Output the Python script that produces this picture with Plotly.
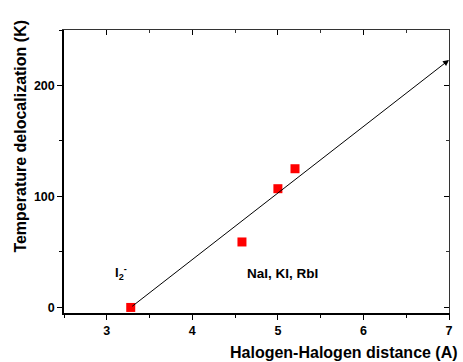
import plotly.graph_objects as go

distance = [3.28, 4.58, 5.0, 5.2]
temperature = [0, 59, 107, 125]
arrow_start = (3.28, 0)
arrow_end = (7.0, 223)
x_ticks = [3, 4, 5, 6, 7]
y_ticks = [0, 100, 200]

FONT = "Liberation Sans, Arial, sans-serif"

fig = go.Figure()
fig.add_trace(go.Scatter(x=distance, y=temperature, mode="markers",
                         marker=dict(symbol="square", size=9, color="#ff0000"),
                         showlegend=False, hoverinfo="skip"))
fig.add_trace(go.Scatter(x=[3], y=[0], xaxis="x2", yaxis="y2", mode="markers",
                         marker=dict(opacity=0), showlegend=False, hoverinfo="skip"))

fig.add_annotation(x=arrow_end[0], y=arrow_end[1], ax=arrow_start[0], ay=arrow_start[1],
                   xref="x", yref="y", axref="x", ayref="y", showarrow=True,
                   arrowhead=2, arrowsize=1.2, arrowwidth=1, arrowcolor="black", text="")
fig.add_annotation(x=3.17, y=31, xref="x", yref="y", text="I<sub>2</sub><sup>-</sup>",
                   showarrow=False, font=dict(family=FONT, size=13, color="black", weight="bold"))
fig.add_annotation(x=5.05, y=31, xref="x", yref="y", text="NaI, KI, RbI",
                   showarrow=False, font=dict(family=FONT, size=13.5, color="black", weight="bold"))
fig.add_annotation(x=1.028, y=-0.138, xref="paper", yref="paper", xanchor="right", yanchor="middle",
                   text="Halogen-Halogen distance (A)", showarrow=False,
                   font=dict(family=FONT, size=16, color="black", weight="bold"))
fig.add_annotation(x=-0.113, y=0.625, xref="paper", yref="paper", xanchor="center", yanchor="middle",
                   text="Temperature delocalization (K)", showarrow=False, textangle=-90,
                   font=dict(family=FONT, size=16, color="black", weight="bold"))

common = dict(showgrid=False, zeroline=False, color="black")
fig.update_layout(
    width=463, height=362,
    margin=dict(l=64, r=10, t=30, b=49),
    paper_bgcolor="white", plot_bgcolor="white",
    xaxis=dict(range=[2.5, 7], tickvals=x_ticks, ticks="outside", ticklen=5, tickwidth=1,
               showline=True, linewidth=1.5, linecolor="black",
               tickfont=dict(family=FONT, size=12.5, color="black", weight="bold"),
               minor=dict(dtick=0.5, tick0=2.5, ticks="outside", ticklen=3, tickcolor="black"),
               **common),
    yaxis=dict(range=[-5, 250], tickvals=y_ticks, ticks="outside", ticklen=5, tickwidth=1,
               showline=True, linewidth=1.5, linecolor="black",
               tickfont=dict(family=FONT, size=12.5, color="black", weight="bold"),
               minor=dict(dtick=50, tick0=0, ticks="outside", ticklen=3, tickcolor="black"),
               **common),
    xaxis2=dict(range=[2.5, 7], overlaying="x", side="top", tickvals=x_ticks, ticks="inside",
                ticklen=5, showticklabels=False, showline=True, linewidth=1, linecolor="#333333",
                minor=dict(dtick=0.5, tick0=2.5, ticks="inside", ticklen=3, tickcolor="#333333"),
                **common),
    yaxis2=dict(range=[-5, 250], overlaying="y", side="right", tickvals=y_ticks, ticks="inside",
                ticklen=5, showticklabels=False, showline=True, linewidth=1, linecolor="#333333",
                minor=dict(dtick=50, tick0=0, ticks="inside", ticklen=3, tickcolor="#333333"),
                **common),
)

fig.write_html("out.html")
